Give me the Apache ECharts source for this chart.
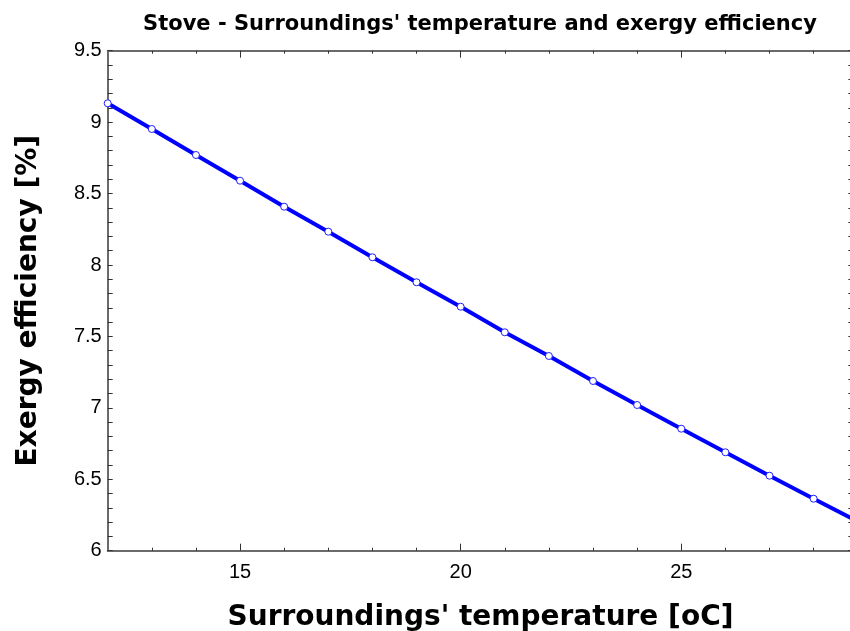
<!DOCTYPE html>
<html>
<head>
<meta charset="utf-8">
<script src="https://cdn.jsdelivr.net/npm/echarts@6/dist/echarts.min.js"></script>
<style>html,body{margin:0;padding:0;background:#fff}#c{width:850px;height:631px}</style>
</head>
<body>
<div id="c"></div>
<script>
// Data
var temperatures = [12, 13, 14, 15, 16, 17, 18, 19, 20, 21, 22, 23, 24, 25, 26, 27, 28, 29];
var efficiency = [9.132, 8.952, 8.770, 8.590, 8.408, 8.233, 8.054, 7.879, 7.708, 7.529, 7.363, 7.188, 7.020, 6.854, 6.689, 6.525, 6.364, 6.205];
var markerHidden = [29];
var xLabels = [15, 20, 25];
var yLabels = [6, 6.5, 7, 7.5, 8, 8.5, 9, 9.5];

var titleText = "Stove - Surroundings' temperature and exergy efficiency";
var xTitle = "Surroundings' temperature [oC]";
var yTitle = "Exergy efficiency [%]";

var X_MIN = 12, X_MAX = 28.9, Y_MIN = 6, Y_MAX = 9.5;

var xMinor = [];
for (var i = 13; i <= 28; i++) { if (xLabels.indexOf(i) < 0) xMinor.push(i); }
var yTicks = [];
for (var j = 60; j <= 95; j++) { yTicks.push(Math.round(j) / 10); }

var seriesData = temperatures.map(function (t, k) {
  var item = { value: [t, efficiency[k]] };
  if (markerHidden.indexOf(t) >= 0) { item.symbol = 'none'; }
  return item;
});

var axisColor = '#6a6a6a';
var boldFont = 'DejaVu Sans, sans-serif';
var labelFont = { color: '#000', fontSize: 20, fontFamily: 'Liberation Sans, Arial, sans-serif' };

function xAx(pos, ticks, len, showLine, showLabel, extra) {
  var a = {
    type: 'value', position: pos, min: X_MIN, max: X_MAX,
    axisLine: { show: showLine, onZero: false, lineStyle: { color: axisColor, width: 2 } },
    axisTick: { show: true, inside: true, length: len, customValues: ticks, lineStyle: { color: '#333', width: 1 } },
    axisLabel: showLabel ? Object.assign({ customValues: xLabels, margin: 12 }, labelFont) : { show: false },
    splitLine: { show: false }
  };
  return Object.assign(a, extra || {});
}
function yAx(pos, showLabel, extra) {
  var a = {
    type: 'value', position: pos, min: Y_MIN, max: Y_MAX,
    axisLine: { show: true, onZero: false, lineStyle: { color: axisColor, width: 2 } },
    axisTick: { show: true, inside: true, length: 5, customValues: yTicks, lineStyle: { color: '#333', width: 1 } },
    axisLabel: showLabel ? Object.assign({ customValues: yLabels, margin: 6 }, labelFont) : { show: false },
    splitLine: { show: false }
  };
  return Object.assign(a, extra || {});
}

var chart = echarts.init(document.getElementById('c'), null, { renderer: 'canvas' });
chart.setOption({
  animation: false,
  backgroundColor: '#fff',
  title: {
    text: titleText, left: 475, top: 9, textAlign: 'center',
    textStyle: { color: '#000', fontSize: 21, fontWeight: 'bold', fontFamily: boldFont }
  },
  grid: { left: 107.7, top: 50.7, width: 16.9 * 44.12, height: 500, outerBoundsMode: 'none', containLabel: false },
  xAxis: [
    xAx('bottom', xMinor, 3, true, true, {
      name: xTitle, nameLocation: 'middle', nameGap: 53,
      nameTextStyle: { color: '#000', fontSize: 28, fontWeight: 'bold', fontFamily: boldFont }
    }),
    xAx('bottom', xLabels, 7, false, false),
    xAx('top', xMinor, 3, true, false),
    xAx('top', xLabels, 7, false, false)
  ],
  yAxis: [
    yAx('left', true, {
      name: yTitle, nameLocation: 'middle', nameGap: 65, nameRotate: 90,
      nameTextStyle: { color: '#000', fontSize: 28, fontWeight: 'bold', fontFamily: boldFont }
    }),
    yAx('right', false)
  ],
  series: [{
    type: 'line',
    xAxisIndex: 0, yAxisIndex: 0,
    data: seriesData,
    symbol: 'circle', symbolSize: 7,
    showAllSymbol: true,
    clip: true,
    lineStyle: { color: '#0000ff', width: 4 },
    itemStyle: { color: '#ffffff', borderColor: '#2020ff', borderWidth: 1 },
    z: 3
  }]
});
</script>
</body>
</html>
